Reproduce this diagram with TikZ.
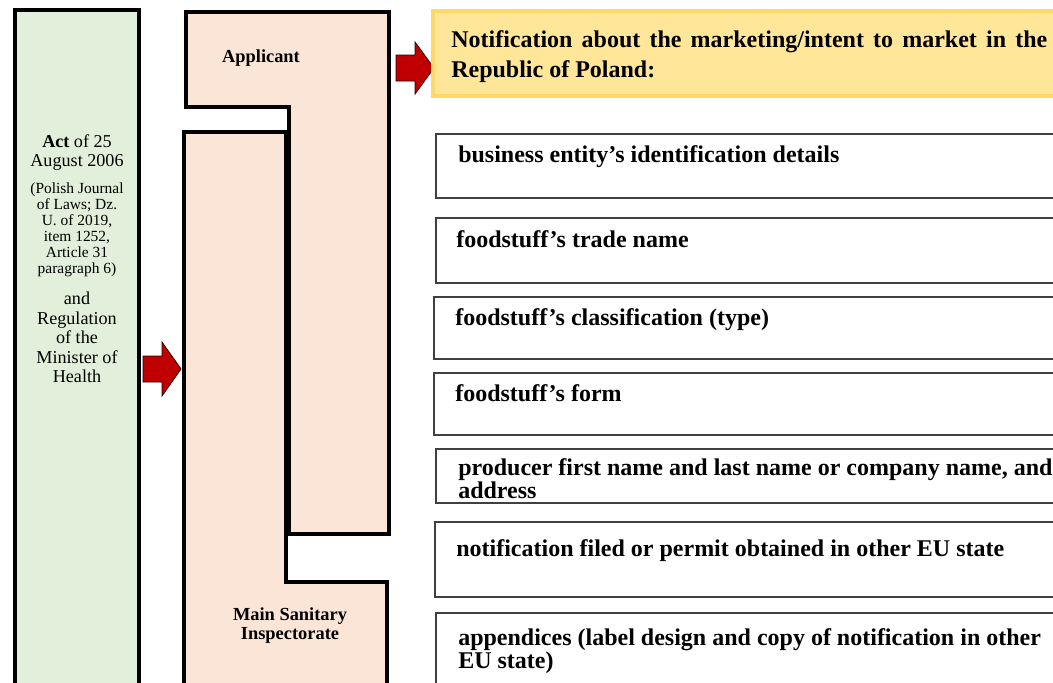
\documentclass[tikz,border=0pt]{standalone}
\usepackage{fontspec}
\setmainfont{Liberation Serif}
\usepackage{tikz}
\usepackage{xcolor}

\begin{document}
\begin{tikzpicture}[x=0.75pt,y=0.75pt,yscale=-1,xscale=1,
  heavy/.style={line width=3pt, draw={rgb, 255:red, 0; green, 0; blue, 0 }},
  rolefill/.style={fill={rgb, 255:red, 251; green, 229; blue, 214 }},
  redarrow/.style={fill={rgb, 255:red, 192; green, 0; blue, 0 }, draw={rgb, 255:red, 40; green, 0; blue, 0 }, line width=0.6pt},
  itembox/.style={draw={rgb, 255:red, 64; green, 64; blue, 64 }, line width=1.1pt},
  itemtext/.style={inner sep=0pt, font=\bfseries\fontsize{18}{13.5}\selectfont, align=left},
  acttext/.style={inner sep=0pt, align=center, font=\fontsize{13.6}{14.6}\selectfont}
]
\useasboundingbox (0,0) rectangle (1053,682);
\clip (0,0) rectangle (1053,682);

%Shape: Rectangle
\draw [heavy, fill={rgb, 255:red, 226; green, 239; blue, 218 }] (15,10) rectangle (139,700) ;
%Shape: Polygon
\draw [heavy, rolefill] (186,12) -- (389,12) -- (389,534) -- (289,534) -- (289,107) -- (186,107) -- cycle ;
%Shape: Polygon
\draw [heavy, rolefill] (184,132) -- (286,132) -- (286,582) -- (387,582) -- (387,700) -- (184,700) -- cycle ;
%Shape: Right Arrow
\draw [redarrow] (143,356) -- (162,356) -- (162,342) -- (181,369) -- (162,396) -- (162,382) -- (143,382) -- cycle ;
%Shape: Right Arrow
\draw [redarrow] (396,55) -- (415,55) -- (415,42) -- (434,68) -- (415,94) -- (415,81) -- (396,81) -- cycle ;
%Shape: Rectangle
\draw [draw={rgb, 255:red, 255; green, 217; blue, 102 }, line width=2.5pt, fill={rgb, 255:red, 255; green, 230; blue, 153 }] (433,11) rectangle (1060,96) ;
%Shape: Rectangle
\draw [itembox] (436,134) rectangle (1060,198) ;
%Shape: Rectangle
\draw [itembox] (436,218) rectangle (1060,283) ;
%Shape: Rectangle
\draw [itembox] (434,297) rectangle (1060,359) ;
%Shape: Rectangle
\draw [itembox] (434,373) rectangle (1060,435) ;
%Shape: Rectangle
\draw [itembox] (436,449) rectangle (1060,503) ;
%Shape: Rectangle
\draw [itembox] (435,522) rectangle (1060,597) ;
%Shape: Rectangle
\draw [itembox] (436,613) rectangle (1060,700) ;

% Text Node
\draw (77,134) node (act) [anchor=north][acttext] {\textbf{Act} of 25\\August 2006};
% Text Node
\draw (77,182.5) node (journal) [anchor=north][acttext, font=\fontsize{11.6}{12}\selectfont] {(Polish Journal\\of Laws; Dz.\\U. of 2019,\\item 1252,\\Article 31\\paragraph 6)};
% Text Node
\draw (77,292) node (regulation) [anchor=north][acttext, font=\fontsize{13.6}{14.6}\selectfont] {and\\Regulation\\of the\\Minister of\\Health};
% Text Node
\draw (261,62) node (applicant) [anchor=base][inner sep=0pt][font=\bfseries\fontsize{13.8}{14.3}\selectfont] {Applicant};
% Text Node
\draw (290,607.5) node (inspectorate) [anchor=north][inner sep=0pt, align=center][font=\bfseries\fontsize{13.8}{14.3}\selectfont] {Main Sanitary\\Inspectorate};
% Text Node
\draw (451,30) node (notification) [anchor=north west][inner sep=0pt, text width=447pt, align=justify][font=\bfseries\fontsize{18}{22.5}\selectfont] {Notification about the marketing/intent to market in the Republic of Poland:};
% Text Node
\draw (458,162) node (entity) [anchor=base west][itemtext] {business entity’s identification details};
% Text Node
\draw (456,247) node (tradename) [anchor=base west][itemtext] {foodstuff’s trade name};
% Text Node
\draw (455,325) node (classification) [anchor=base west][itemtext] {foodstuff’s classification (type)};
% Text Node
\draw (455,401) node (form) [anchor=base west][itemtext] {foodstuff’s form};
% Text Node
\draw (458,458.5) node (producer) [anchor=north west][itemtext] {producer first name and last name or company name, and\\address};
% Text Node
\draw (456,556) node (permit) [anchor=base west][itemtext] {notification filed or permit obtained in other EU state};
% Text Node
\draw (458,628) node (appendices) [anchor=north west][itemtext] {appendices (label design and copy of notification in other\\EU state)};
\end{tikzpicture}
\end{document}
